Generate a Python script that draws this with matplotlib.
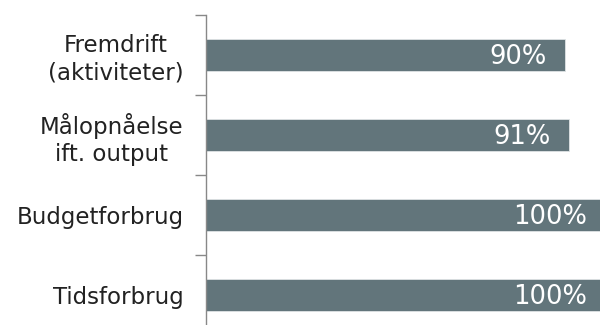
import numpy as np
import matplotlib.pyplot as plt

categories = ['Fremdrift\n(aktiviteter)', 'Målopnåelse\nift. output', 'Budgetforbrug', 'Tidsforbrug']
values = [90, 91, 100, 100]
labels = ['90%', '91%', '100%', '100%']

fig = plt.figure(figsize=(6, 3.25), dpi=100)
# axes runs a little past the right and bottom edges, as in the original
ax = fig.add_axes([206 / 600, -10 / 325, 399 / 600, 320 / 325])

y = np.arange(len(categories))
ax.barh(y, values, height=0.39, color='#62757b', edgecolor='#dfe4e5', linewidth=0.6)
ax.set_xlim(0, 100)
ax.set_ylim(len(categories) - 0.5, -0.5)

for yi, v, lab in zip(y, values, labels):
    ax.annotate(lab, (v, yi), xytext=(-18, -2), textcoords='offset pixels',
                ha='right', va='center', color='white', fontsize=18.5)

ax.set_yticks(y)
ax.set_yticklabels(categories, fontsize=16.5, color='#222222', ha='right', multialignment='center')
ax.tick_params(axis='y', which='major', length=0, pad=16)
ax.set_yticks(np.arange(-0.5, len(categories), 1), minor=True)
ax.tick_params(axis='y', which='minor', length=8, width=1, color='#888888')
ax.set_xticks([])

for s in ['top', 'right', 'bottom']:
    ax.spines[s].set_visible(False)
ax.spines['left'].set_color('#888888')
ax.spines['left'].set_linewidth(1)

fig.savefig('out.png', dpi=100)
